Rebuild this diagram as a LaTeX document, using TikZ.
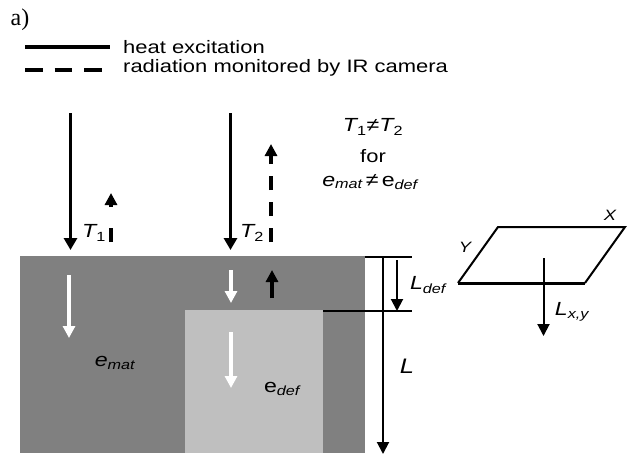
\documentclass[tikz,border=0pt]{standalone}
\usepackage{xcolor}
\usepackage{amsmath}
\usepackage{fontspec}
\setmainfont[FakeStretch=1.22]{Liberation Sans}
\newfontfamily\serifcap{Liberation Serif}
\usetikzlibrary{arrows.meta}
\definecolor{matgray}{gray}{0.5}
\definecolor{defgray}{gray}{0.75}
\begin{document}
\begin{tikzpicture}[x=1pt,y=-1pt]
			
			\tikzstyle{label} = [inner sep=0pt,font=\fontsize{18}{18}\selectfont]
			\tikzstyle{mathlabel} = [inner sep=0pt,font=\fontsize{19}{19}\selectfont\itshape]
			\tikzstyle{heat} = [line width=3pt,-{Triangle[length=12pt,width=13pt]}]
			\tikzstyle{radiation} = [line width=4pt,dash pattern=on 14pt off 12pt,-{Triangle[length=12pt,width=12pt]}]
			\tikzstyle{inner} = [line width=3.5pt,-{Triangle[length=12pt,width=12pt]}]
			\tikzstyle{dimline} = [line width=2pt,-{Triangle[length=12pt,width=12pt]}]
			
			\useasboundingbox (0,0) rectangle (632,453);
			
			% legend
			\node[inner sep=0pt,font=\serifcap\fontsize{24}{24}\selectfont] (tag) at (20,20) {a)};
			\coordinate (solidA) at (25,47);
			\coordinate (solidB) at (110,47);
			\coordinate (dashA) at (25,70);
			\coordinate (dashB) at (102,70);
			\draw[line width=4pt] (solidA) -- (solidB);
			\draw[line width=4pt,dash pattern=on 17.5pt off 12pt] (dashA) -- (dashB);
			\node[label,anchor=west] (heatlabel) at (123,47) {heat excitation};
			\node[label,anchor=west] (radlabel) at (123,68) {radiation monitored by IR camera};
			
			% sample
			\fill[matgray] (20,256) rectangle (365,453);
			\fill[defgray] (185,310) rectangle (323,453);
			
			% incoming and outgoing arrows
			\coordinate (inA) at (70.5,113);
			\coordinate (inAend) at (70.5,250);
			\coordinate (inB) at (230.5,113);
			\coordinate (inBend) at (230.5,250);
			\draw[heat] (inA) -- (inAend);
			\draw[heat] (inB) -- (inBend);
			\coordinate (outA) at (111,242);
			\coordinate (outAend) at (111,193);
			\coordinate (outB) at (271,242);
			\coordinate (outBend) at (271,144);
			\draw[radiation,dash pattern=on 14pt off 21pt] (outA) -- (outAend);
			\draw[radiation] (outB) -- (outBend);
			\node[mathlabel] (tempA) at (94,233) {T\textsubscript{\upshape 1}};
			\node[mathlabel] (tempB) at (252,233) {T\textsubscript{\upshape 2}};
			
			\node[mathlabel] (cond) at (373,127) {T\textsubscript{\upshape 1}{\upshape≠}T\textsubscript{\upshape 2}};
			\node[label] (for) at (373,156) {for};
			\node[mathlabel] (condb) at (370,182) {e\textsubscript{mat}\,{\upshape≠}\,{\upshape e}\textsubscript{def}};
			
			% inside the sample
			\coordinate (whiteA) at (69,275);
			\coordinate (whiteAend) at (69,338);
			\coordinate (whiteB) at (231,270);
			\coordinate (whiteBend) at (231,303);
			\coordinate (whiteC) at (231,332);
			\coordinate (whiteCend) at (231,388);
			\draw[inner,white] (whiteA) -- (whiteAend);
			\draw[inner,white] (whiteB) -- (whiteBend);
			\draw[inner,white] (whiteC) -- (whiteCend);
			\coordinate (upC) at (272,298);
			\coordinate (upCend) at (272,270);
			\draw[inner] (upC) -- (upCend);
			\node[mathlabel] (mat) at (115,363) {e\textsubscript{mat}};
			\node[mathlabel] (def) at (282,389) {{\upshape e}\textsubscript{def}};
			
			% depth marks
			\coordinate (topA) at (365,257);
			\coordinate (topB) at (412,257);
			\coordinate (midA) at (323,311);
			\coordinate (midB) at (412,311);
			\draw[line width=1.2pt] (topA) -- (topB);
			\draw[line width=1.2pt] (midA) -- (midB);
			\coordinate (depth) at (383,257);
			\coordinate (depthend) at (383,454);
			\coordinate (defect) at (397,260);
			\coordinate (defectend) at (397,311);
			\draw[dimline] (depth) -- (depthend);
			\draw[dimline] (defect) -- (defectend);
			\node[mathlabel] (ldef) at (428,285) {L\textsubscript{def}};
			\node[mathlabel,font=\fontsize{21}{21}\selectfont\itshape] (ldepth) at (407,366) {L};
			
			% plane
			\coordinate (planeA) at (458,283);
			\coordinate (planeB) at (585,283);
			\coordinate (planeC) at (625,227);
			\coordinate (planeD) at (498,227);
			\draw[line width=2pt] (planeA) -- (planeD) -- (planeC) -- (planeB);
			\draw[line width=3pt] (planeA) -- (planeB);
			\coordinate (normal) at (543.5,258);
			\coordinate (normalend) at (543.5,336);
			\draw[dimline] (normal) -- (normalend);
			\node[mathlabel] (lxy) at (572,312) {L\textsubscript{x,y}};
			\node[label,font=\fontsize{15}{15}\selectfont\itshape] (ylabel) at (465,247) {Y};
			\node[label,font=\fontsize{15}{15}\selectfont\itshape] (xlabel) at (610,215) {X};
			
		\end{tikzpicture}
\end{document}
